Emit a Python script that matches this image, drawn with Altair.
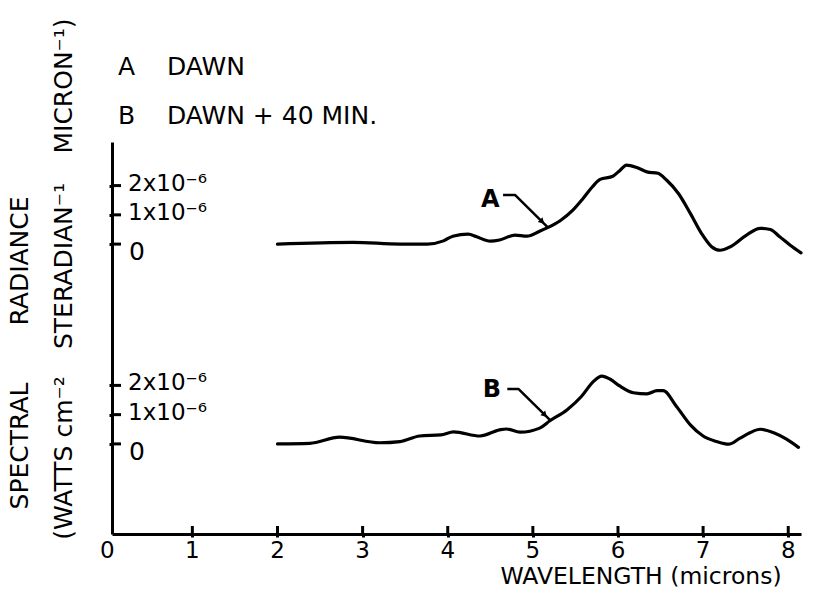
import altair as alt
import pandas as pd

# ---------------- data ----------------
# Curve A : DAWN   (wavelength in microns, spectral radiance in 1e-6 W cm^-2 sr^-1 um^-1)
wl_a = [2.00, 2.89, 3.44, 3.76, 3.95, 4.06, 4.24, 4.34, 4.50, 4.61, 4.79, 4.93,
        5.08, 5.18, 5.32, 5.47, 5.59, 5.70, 5.79, 5.94, 6.02, 6.10, 6.22, 6.34,
        6.47, 6.57, 6.71, 6.85, 6.98, 7.10, 7.20, 7.32, 7.51, 7.67, 7.79, 7.90,
        8.02, 8.15]
rad_a = [0.00, 0.06, 0.00, 0.00, 0.11, 0.27, 0.34, 0.25, 0.10, 0.14, 0.31, 0.27,
         0.44, 0.57, 0.80, 1.16, 1.56, 1.96, 2.21, 2.32, 2.51, 2.70, 2.62, 2.47,
         2.42, 2.19, 1.73, 1.05, 0.37, -0.09, -0.21, -0.09, 0.31, 0.54, 0.50, 0.25,
         -0.03, -0.30]

# Curve B : DAWN + 40 MIN.
wl_b = [2.00, 2.38, 2.73, 3.20, 3.44, 3.67, 3.92, 4.07, 4.38, 4.61, 4.69, 4.85,
        5.08, 5.20, 5.40, 5.57, 5.71, 5.81, 5.91, 6.02, 6.18, 6.34, 6.46, 6.53,
        6.69, 6.85, 7.00, 7.16, 7.30, 7.43, 7.55, 7.67, 7.83, 7.98, 8.12]
rad_b = [0.00, 0.02, 0.23, 0.04, 0.08, 0.27, 0.31, 0.41, 0.27, 0.48, 0.51, 0.40,
         0.54, 0.79, 1.16, 1.62, 2.13, 2.32, 2.21, 1.98, 1.75, 1.71, 1.82, 1.82,
         1.27, 0.65, 0.27, 0.08, -0.01, 0.19, 0.38, 0.50, 0.38, 0.16, -0.12]

x_ticks = [1, 2, 3, 4, 5, 6, 7, 8]
x_labels = ["0", "1", "2", "3", "4", "5", "6", "7", "8"]
y_tick_vals = [0, 1, 2]
y_tick_labels = ["0", "1x10\u207b\u2076", "2x10\u207b\u2076"]

legend_lines = ["A\u00a0\u00a0\u00a0\u00a0DAWN", "B\u00a0\u00a0\u00a0\u00a0DAWN + 40 MIN."]
# y-axis title: line 1 and line 2, each given in its word groups
y_title_1 = ["SPECTRAL", "RADIANCE"]
y_title_2 = ["(WATTS cm\u207b\u00b2", "STERADIAN\u207b\u00b9", "MICRON\u207b\u00b9)"]
x_title = "WAVELENGTH (microns)"

# callout leaders  (wavelength, radiance) for each curve
lead_a_wl = [4.65, 4.79, 5.17]
lead_a_rad = [1.68, 1.68, 0.59]
lead_b_wl = [4.70, 4.83, 5.20]
lead_b_rad = [1.88, 1.88, 0.82]
callout_text = ["A", "B"]
callout_wl = [4.50, 4.52]
callout_rad = [1.51, 1.84]

# ---------------- layout constants ----------------
OFFSET = {"A": 9.91, "B": 3.08}      # vertical offset of each trace's zero line
X_MIN, X_MAX = 0.056, 8.15
Y_MAX = 13.4
W, H = 689, 392
FONT = "DejaVu Sans"
INK = "#000000"

xs = alt.Scale(domain=[X_MIN, X_MAX], nice=False, zero=False)
ys = alt.Scale(domain=[0, Y_MAX], nice=False, zero=False)

# ---------------- tables ----------------
curves = pd.concat([
    pd.DataFrame({"wl": wl_a, "rad": rad_a, "curve": "A", "ord": range(len(wl_a))}),
    pd.DataFrame({"wl": wl_b, "rad": rad_b, "curve": "B", "ord": range(len(wl_b))}),
])
curves["ypos"] = curves["rad"] + curves["curve"].map(OFFSET)

ytk = pd.DataFrame([
    {"curve": c, "val": v, "label": l}
    for c in ["A", "B"] for v, l in zip(y_tick_vals, y_tick_labels)
])
ytk["ypos"] = ytk["val"] + ytk["curve"].map(OFFSET)
y_tick_positions = [round(v, 4) for v in ytk["ypos"].tolist()]

xtk = pd.DataFrame({"wl": x_ticks})

leaders = pd.concat([
    pd.DataFrame({"wl": lead_a_wl, "rad": lead_a_rad, "curve": "A", "ord": range(3)}),
    pd.DataFrame({"wl": lead_b_wl, "rad": lead_b_rad, "curve": "B", "ord": range(3)}),
])
leaders["ypos"] = leaders["rad"] + leaders["curve"].map(OFFSET)

heads = []
for c, wls, rads in [("A", lead_a_wl, lead_a_rad), ("B", lead_b_wl, lead_b_rad)]:
    t = 0.84
    heads.append({"curve": c,
                  "wl": wls[1] + t * (wls[2] - wls[1]),
                  "ypos": rads[1] + t * (rads[2] - rads[1]) + OFFSET[c]})
heads = pd.DataFrame(heads)

callouts = pd.DataFrame({"text": callout_text, "wl": callout_wl, "rad": callout_rad,
                         "curve": ["A", "B"]})
callouts["ypos"] = callouts["rad"] + callouts["curve"].map(OFFSET)

xlab = pd.DataFrame({"wl": list(range(len(x_labels))), "label": x_labels})

# ---------------- layers ----------------
axis_common = dict(domain=True, domainColor=INK, domainWidth=3, ticks=True,
                   tickColor=INK, tickWidth=3, tickSize=3,
                   labels=False, grid=False, title=None)

line_layer = alt.Chart(curves).mark_line(
    color=INK, strokeWidth=3.2, interpolate="monotone", strokeCap="round", strokeJoin="round"
).encode(
    x=alt.X("wl:Q", scale=xs, axis=alt.Axis(values=x_ticks, **axis_common)),
    y=alt.Y("ypos:Q", scale=ys, axis=alt.Axis(values=y_tick_positions, **axis_common)),
    detail="curve:N",
    order="ord:Q",
)

# inward tick marks
xtick_layer = alt.Chart(xtk).mark_rule(color=INK, strokeWidth=3).encode(
    x=alt.X("wl:Q", scale=xs), y=alt.value(H), y2=alt.value(H - 8)
)
ytick_layer = alt.Chart(ytk).mark_rule(color=INK, strokeWidth=3).encode(
    y=alt.Y("ypos:Q", scale=ys), x=alt.value(0), x2=alt.value(9)
)

ylab_sci = alt.Chart(ytk).transform_filter("datum.val > 0").mark_text(
    font=FONT, fontSize=23, color=INK, align="left", baseline="middle", dy=-2
).encode(y=alt.Y("ypos:Q", scale=ys), x=alt.value(16), text="label:N")

ylab_zero = alt.Chart(ytk).transform_filter("datum.val == 0").mark_text(
    font=FONT, fontSize=25, color=INK, align="left", baseline="middle", dy=8
).encode(y=alt.Y("ypos:Q", scale=ys), x=alt.value(17), text="label:N")

xlab_layer = alt.Chart(xlab).mark_text(
    font=FONT, fontSize=23, color=INK, align="center", baseline="middle"
).encode(x=alt.X("wl:Q", scale=xs), y=alt.value(H + 17), text="label:N")

xtitle_layer = alt.Chart(pd.DataFrame({"t": [x_title]})).mark_text(
    font=FONT, fontSize=23.5, color=INK, align="center", baseline="middle"
).encode(x=alt.value(529), y=alt.value(H + 43), text="t:N")


def vtext(word, px_x, px_y_center, size=25):
    return alt.Chart(pd.DataFrame({"t": [word]})).mark_text(
        font=FONT, fontSize=size, color=INK, align="center", baseline="middle", angle=270
    ).encode(x=alt.value(px_x), y=alt.value(px_y_center), text="t:N")


# word-group centres relative to the plot origin (pixels)
ytitle_layers = [
    vtext(y_title_1[0], -92, 446 - 142),
    vtext(y_title_1[1], -92, 261 - 142),
    vtext(y_title_2[0], -48, 458 - 142),
    vtext(y_title_2[1], -48, 266 - 142),
    vtext(y_title_2[2], -48, 86 - 142),
]

legend_df = pd.DataFrame({"t": legend_lines, "row": [0, 1]})
legend_a = alt.Chart(legend_df).transform_filter("datum.row == 0").mark_text(
    font=FONT, fontSize=25, color=INK, align="left", baseline="middle"
).encode(x=alt.value(6), y=alt.value(-75), text="t:N")
legend_b = alt.Chart(legend_df).transform_filter("datum.row == 1").mark_text(
    font=FONT, fontSize=25, color=INK, align="left", baseline="middle"
).encode(x=alt.value(6), y=alt.value(-26), text="t:N")

leader_layer = alt.Chart(leaders).mark_line(
    color=INK, strokeWidth=2.5, strokeJoin="round"
).encode(x=alt.X("wl:Q", scale=xs), y=alt.Y("ypos:Q", scale=ys),
         detail="curve:N", order="ord:Q")

head_layer = alt.Chart(heads).mark_point(
    shape="triangle-up", filled=True, color=INK, size=45, angle=135, opacity=1
).encode(x=alt.X("wl:Q", scale=xs), y=alt.Y("ypos:Q", scale=ys))

callout_layer = alt.Chart(callouts).mark_text(
    font=FONT, fontSize=24, color=INK, align="center", baseline="middle", fontWeight="bold"
).encode(x=alt.X("wl:Q", scale=xs), y=alt.Y("ypos:Q", scale=ys), text="text:N")

chart = alt.layer(
    line_layer, xtick_layer, ytick_layer, ylab_sci, ylab_zero, xlab_layer,
    xtitle_layer, *ytitle_layers, legend_a, legend_b,
    leader_layer, head_layer, callout_layer,
).properties(
    width=W, height=H,
    autosize=alt.AutoSizeParams(type="none"),
    padding={"left": 112, "top": 142, "right": 13, "bottom": 56},
    background="white",
).configure_view(strokeWidth=0)

chart.save("out.html", embed_options={"renderer": "svg", "actions": False})
